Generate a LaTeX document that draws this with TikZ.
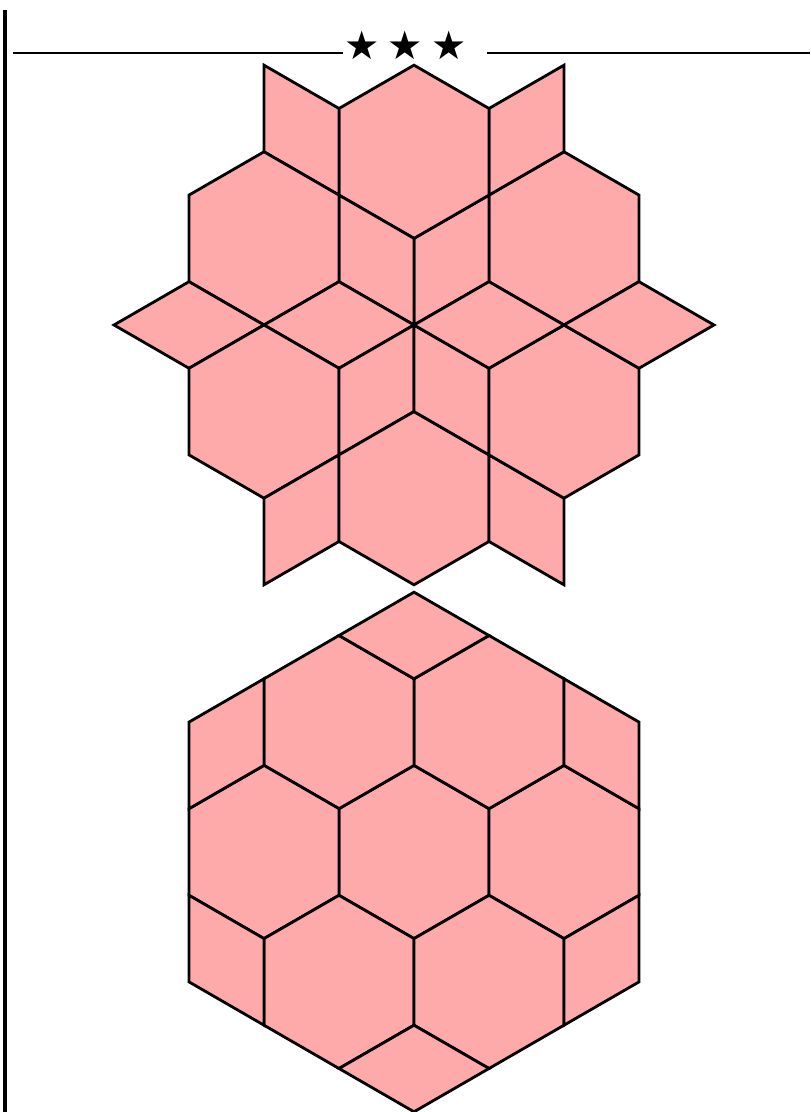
\documentclass[tikz,border=0pt]{standalone}
\usepackage{fontspec}
\newfontfamily\symfont{DejaVu Sans}
\usetikzlibrary{calc}
\definecolor{tilepink}{HTML}{FFAAAA}
\tikzset{
  tile/.style={draw=black,fill=tilepink,line width=2pt},
  rulethin/.style={line width=1.6pt},
  starmark/.style={font=\symfont\fontsize{28}{28}\selectfont,inner sep=0pt},
}

\begin{document}
\begin{tikzpicture}[x=0.025cm,y=0.025cm]
\useasboundingbox (0,0) rectangle (810,1112);
\pgfmathsetmacro{\s}{86.6}
\pgfmathsetmacro{\d}{150}
% margin rule and section break
\coordinate (margtop) at (5,1102);
\coordinate (margbot) at (5,0);
\draw[line width=2.6pt] (margtop) -- (margbot);
\foreach \i/\x in {1/362,2/405,3/449}
  \node[starmark] (star\i) at (\x,1067) {★};
\coordinate (breakA) at (13,1059);
\coordinate (breakB) at (343,1059);
\coordinate (breakC) at (487,1059);
\coordinate (breakD) at (810,1059);
\draw[rulethin] (breakA) -- (breakB);
\draw[rulethin] (breakC) -- (breakD);
% star of hexagons
\begin{scope}[shift={(414,787)}]
\foreach \a in {30,90,...,330}{
  \begin{scope}[shift={(\a:2*\s)}]
    \draw[tile] (30:\s) -- (90:\s) -- (150:\s) -- (210:\s) -- (270:\s) -- (330:\s) -- cycle;
  \end{scope}
  \draw[tile] (0,0) -- ++(\a:\s) -- ++(\a+60:\s) -- ++(\a+180:\s) -- cycle;
  \draw[tile] (\a+30:\d) -- ++(\a:\s) -- ++(\a+60:\s) -- ++(\a+180:\s) -- cycle;
}
\end{scope}
% big hexagon
\begin{scope}[shift={(414,260)}]
\draw[tile] (30:\s) -- (90:\s) -- (150:\s) -- (210:\s) -- (270:\s) -- (330:\s) -- cycle;
\foreach \a in {0,60,...,300}{
  \begin{scope}[shift={(\a:\d)}]
    \draw[tile] (30:\s) -- (90:\s) -- (150:\s) -- (210:\s) -- (270:\s) -- (330:\s) -- cycle;
  \end{scope}
}
\foreach \a in {30,90,...,330}
  \draw[tile] (\a:2*\s) -- ++(\a-60:\s) -- ++(\a+60:\s) -- ++(\a+120:\s) -- cycle;
\end{scope}
\end{tikzpicture}
\end{document}
